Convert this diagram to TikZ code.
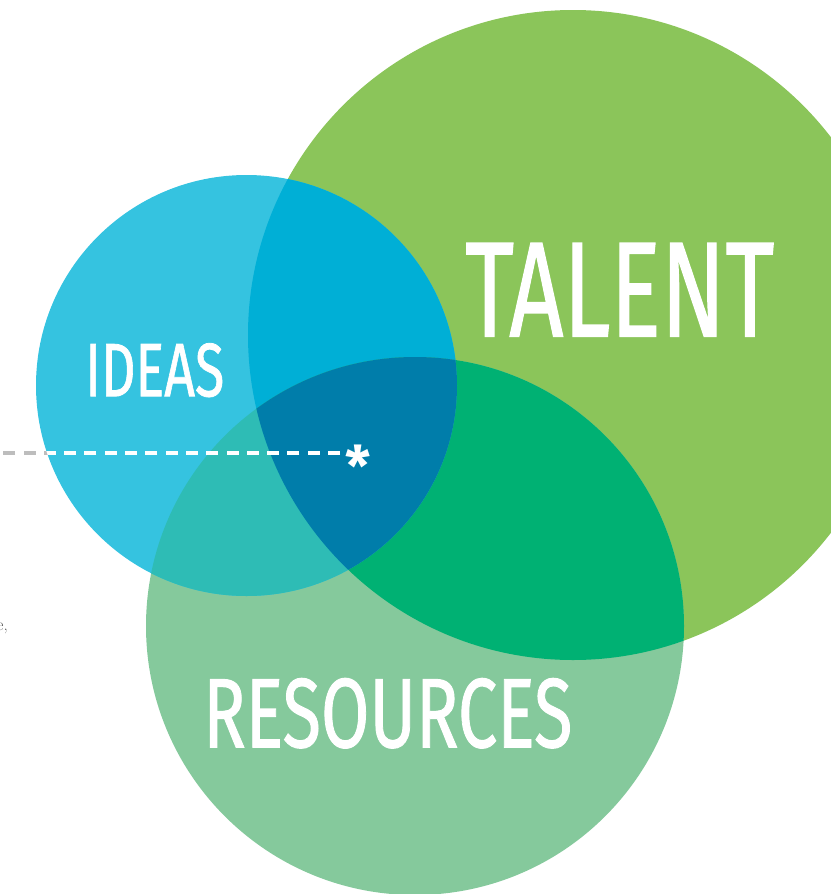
\documentclass[tikz,border=0pt]{standalone}
\usepackage{fontspec}
\usepackage{graphicx}
\usetikzlibrary{positioning}
\newfontfamily\labelfont{Fira Sans}[FakeBold=1.1]
\newfontfamily\starfont{Fira Sans}
\definecolor{talentgreen}{HTML}{8BC55A}
\definecolor{ideasblue}{HTML}{35C3E0}
\definecolor{resourcegreen}{HTML}{85C99C}
\definecolor{ideastalent}{HTML}{00AFD6}
\definecolor{ideasresource}{HTML}{2EBCB5}
\definecolor{talentresource}{HTML}{00B173}
\definecolor{allthree}{HTML}{007DAA}
\definecolor{guidegray}{HTML}{BDBDBD}
\tikzset{
  venn label/.style={text=white, inner sep=0pt, font=\labelfont},
  guide line/.style={line width=3.2pt, dash pattern=on 12pt off 8.3pt}
}
\newcommand{\talentdisk}{(talent) circle[radius=325pt]}
\newcommand{\ideasdisk}{(ideas) circle[radius=210.5pt]}
\newcommand{\resourcedisk}{(resource) circle[radius=269pt]}

\begin{document}
\begin{tikzpicture}[x=1pt,y=-1pt]
\useasboundingbox (0,0) rectangle (830,894);
\coordinate (talent) at (573,335);
\coordinate (ideas) at (246.5,385.5);
\coordinate (resource) at (415,626);

% the three circles
\fill[talentgreen] \talentdisk;
\fill[resourcegreen] \resourcedisk;
\fill[ideasblue] \ideasdisk;

% overlaps
\begin{scope}
  \clip \talentdisk;
  \fill[ideastalent] \ideasdisk;
  \fill[talentresource] \resourcedisk;
\end{scope}
\begin{scope}
  \clip \ideasdisk;
  \fill[ideasresource] \resourcedisk;
  \clip \talentdisk;
  \fill[allthree] \resourcedisk;
\end{scope}

% labels
\node[venn label, anchor=north west] (talentlabel) at (465,243)
  {\resizebox{309pt}{93pt}{TALENT}};
\node[venn label, anchor=north west] (ideaslabel) at (85,343)
  {\resizebox{139pt}{53pt}{IDEAS}};
\node[venn label, anchor=north west] (resourcelabel) at (203,678)
  {\resizebox{369pt}{69pt}{RESOURCES}};

% pointer to the centre
\coordinate (guidestart) at (0,453);
\coordinate (guideend) at (340,453);
\node[venn label, anchor=base, font=\starfont\bfseries\fontsize{56}{56}\selectfont]
  (star) at (358,486) {*};
\draw[guide line, guidegray] (guideend) -- (guidestart);
\begin{scope}
  \clip \ideasdisk;
  \draw[guide line, white] (guideend) -- (guidestart);
\end{scope}

\node[anchor=base east, inner sep=0pt, text=black!65, font=\fontsize{17}{17}\selectfont]
  (cutoff) at (8,630) {e,};
\end{tikzpicture}
\end{document}
